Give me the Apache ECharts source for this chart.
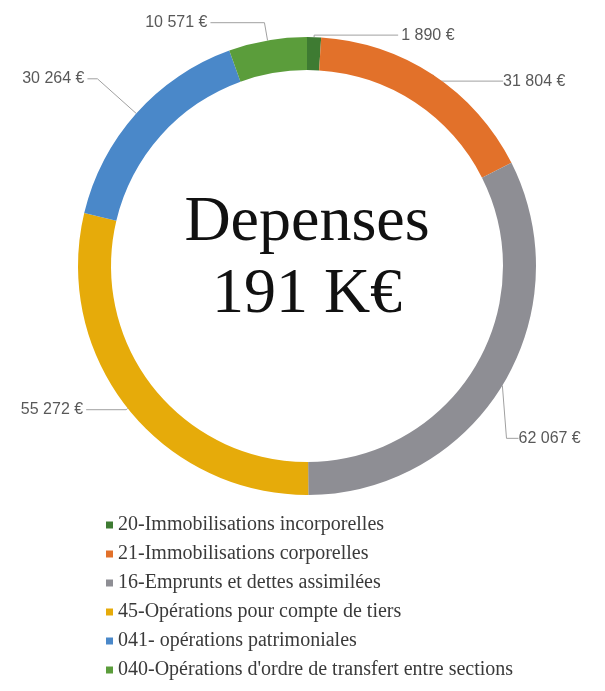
<!DOCTYPE html>
<html>
<head>
<meta charset="utf-8">
<script src="https://cdn.jsdelivr.net/npm/echarts@6/dist/echarts.min.js"></script>
<style>
  html, body { margin: 0; background: #fff; }
  #chart { width: 605px; height: 691px; }
</style>
</head>
<body>
<div id="chart"></div>
<script>
// postes de dépenses (dans l'ordre du sens horaire, depuis midi)
const categories = [
  "20-Immobilisations incorporelles",
  "21-Immobilisations corporelles",
  "16-Emprunts et dettes assimilées",
  "45-Opérations pour compte de tiers",
  "041- opérations patrimoniales",
  "040-Opérations d'ordre de transfert entre sections"
];
const values = [1890, 31804, 62067, 55272, 30264, 10571];
const centerLines = ["Depenses", "191 K€"];

const colors = ["#3e7b32", "#e2712a", "#8e8e94", "#e6ab0a", "#4a88c9", "#5b9d3b"];
// longueurs des traits de rappel [length, length2]
const leader = [[2, 84], [2, 66], [40, 12], [2, 40], [52, 10], [18, 54]];
// décalage de quelques étiquettes par rapport à la position par défaut
const labelShift = [null, [0, 8], [-33, 32], null, null, null];

const fmt = v => String(v).replace(/\B(?=(\d{3})+(?!\d))/g, " ") + " €";

const chart = echarts.init(document.getElementById("chart"));

chart.setOption({
  animation: false,
  color: colors,
  legend: {
    orient: "vertical",
    left: 101,
    top: 510,
    itemWidth: 7,
    itemHeight: 7,
    itemGap: 9,
    icon: "rect",
    selectedMode: false,
    textStyle: {
      fontFamily: "Liberation Serif",
      fontSize: 20,
      color: "#3a3a3a",
      padding: [0, 0, 0, 0]
    },
    data: categories
  },
  graphic: [{
    type: "text",
    x: 307,
    y: 259,
    silent: true,
    style: {
      text: centerLines.join("\n"),
      align: "center",
      verticalAlign: "middle",
      fontFamily: "Liberation Serif",
      fontSize: 64,
      lineHeight: 72,
      fill: "#111"
    }
  }],
  series: [{
    type: "pie",
    center: [307, 266],
    radius: [196, 229],
    startAngle: 90,
    clockwise: true,
    avoidLabelOverlap: false,
    emphasis: { disabled: true },
    label: {
      show: true,
      position: "outside",
      formatter: p => fmt(p.value),
      fontFamily: "Liberation Sans",
      fontSize: 16,
      color: "#595959",
      distanceToLabelLine: 3
    },
    labelLine: {
      show: true,
      lineStyle: { color: "#a0a0a0", width: 1 }
    },
    labelLayout: function (p) {
      const s = labelShift[p.dataIndex];
      if (!s) return {};
      return {
        x: p.labelRect.x + s[0],
        y: p.labelRect.y + p.labelRect.height / 2 + s[1]
      };
    },
    data: categories.map((name, i) => ({
      name: name,
      value: values[i],
      labelLine: { length: leader[i][0], length2: leader[i][1] }
    }))
  }]
});
</script>
</body>
</html>
